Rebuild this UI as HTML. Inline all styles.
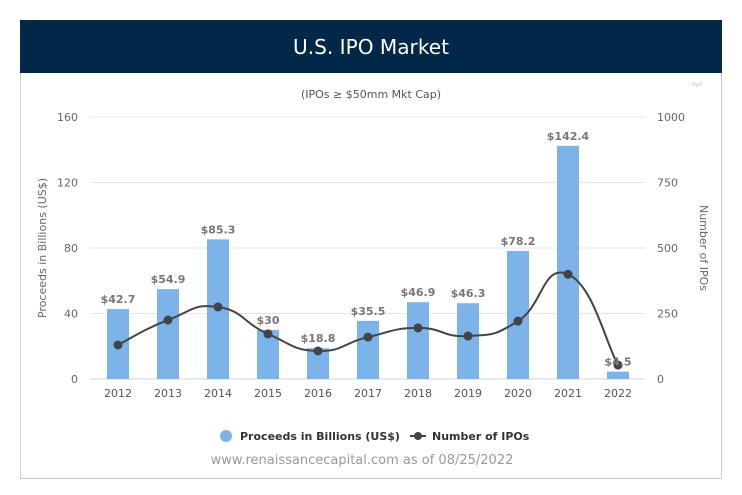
<!DOCTYPE html>
<html><head><meta charset="utf-8"><style>
body{margin:0;background:#fff;font-family:"Liberation Sans","DejaVu Sans",sans-serif;}
svg text{font-family:"DejaVu Sans","Liberation Sans",sans-serif;}
</style></head><body>
<svg id="c" width="742" height="490">
<rect x="20.5" y="20.5" width="701" height="458" fill="#fff" stroke="#ccc"/>
<rect x="20" y="20" width="702" height="53" fill="#012749"/>
<text x="371" y="54" text-anchor="middle" fill="#fff" font-size="20" textLength="156" lengthAdjust="spacingAndGlyphs">U.S. IPO Market</text>
<text x="371" y="98" text-anchor="middle" fill="#555" font-size="11">(IPOs ≥ $50mm Mkt Cap)</text>
<text x="697" y="92" text-anchor="middle" fill="#ccc" font-size="12">︾</text>
<g id="grid"></g><g id="bars"></g><g id="line"></g><g id="labels"></g>
<text transform="translate(46,248) rotate(-90)" text-anchor="middle" fill="#666" font-size="11">Proceeds in Billions (US$)</text>
<text transform="translate(700,248) rotate(90)" text-anchor="middle" fill="#666" font-size="11">Number of IPOs</text>
<g><circle cx="226" cy="436" r="6" fill="#7cb4ea"/><text x="240" y="440" font-size="11" font-weight="bold" fill="#333">Proceeds in Billions (US$)</text></g>
<g><line x1="410" y1="436" x2="426" y2="436" stroke="#444" stroke-width="2"/><circle cx="418" cy="436" r="4" fill="#444"/><text x="432" y="440" font-size="11" font-weight="bold" fill="#333">Number of IPOs</text></g>
<text x="362" y="464" text-anchor="middle" fill="#999" font-size="13">www.renaissancecapital.com as of 08/25/2022</text>
</svg>
<script>
const years=["2012","2013","2014","2015","2016","2017","2018","2019","2020","2021","2022"];
const proceeds=[42.7,54.9,85.3,30,18.8,35.5,46.9,46.3,78.2,142.4,4.5];
const proceedLabels=["$42.7","$54.9","$85.3","$30","$18.8","$35.5","$46.9","$46.3","$78.2","$142.4","$4.5"];
const ipoCounts=[130,225,275,172,107,160,195,164,221,400,53];
const leftTicks=[0,40,80,120,160];
const rightTicks=[0,250,500,750,1000];
const NS="http://www.w3.org/2000/svg";
const y0=379,yTop=117;
const yL=v=>y0-(v/160)*(y0-yTop);
const yR=v=>y0-(v/1000)*(y0-yTop);
const xAt=i=>118+i*50;
function el(t,a,p){const e=document.createElementNS(NS,t);for(const k in a)e.setAttribute(k,a[k]);document.getElementById(p).appendChild(e);return e;}
leftTicks.forEach((v,i)=>{
 const g=el('line',{x1:90,x2:645,y1:yL(v),y2:yL(v),stroke:i==0?'#ccd6eb':'#e6e6e6'},'grid');
 
 
 const t=el('text',{x:78,y:yL(v)+4,'text-anchor':'end','font-size':11,fill:'#666'},'grid');t.textContent=v;
 
 
});
rightTicks.forEach(v=>{
 const t=el('text',{x:657,y:yR(v)+4,'font-size':11,fill:'#666'},'grid');t.textContent=v;
 
 
});
years.forEach((y,i)=>{
 const t=el('text',{x:xAt(i),y:397,'text-anchor':'middle','font-size':11,fill:'#555'},'grid');t.textContent=y;
 
 
 const b=el('rect',{x:xAt(i)-11,y:yL(proceeds[i]),width:22,height:y0-yL(proceeds[i]),fill:'#7cb4ea'},'bars');
 
 
 const l=el('text',{x:xAt(i),y:yL(proceeds[i])-6,'text-anchor':'middle','font-size':11,'font-weight':'bold',fill:'#777'},'labels');l.textContent=proceedLabels[i];
 
 
});
const pts=ipoCounts.map((v,i)=>[xAt(i),yR(v)]);
let d='M'+pts[0];
for(let i=0;i<pts.length-1;i++){
 const p0=pts[Math.max(0,i-1)],p1=pts[i],p2=pts[i+1],p3=pts[Math.min(pts.length-1,i+2)];
 const s=1/4;
 d+=` C${p1[0]+(p2[0]-p0[0])*s},${p1[1]+(p2[1]-p0[1])*s} ${p2[0]-(p3[0]-p1[0])*s},${p2[1]-(p3[1]-p1[1])*s} ${p2[0]},${p2[1]}`;
}
const path=el('path',{d:d,fill:'none',stroke:'#434348','stroke-width':2},'line');


pts.forEach((p,i)=>{
 const c=el('circle',{cx:p[0],cy:p[1],r:4.5,fill:'#434348'},'line');
 
 
});
</script>
</body></html>
